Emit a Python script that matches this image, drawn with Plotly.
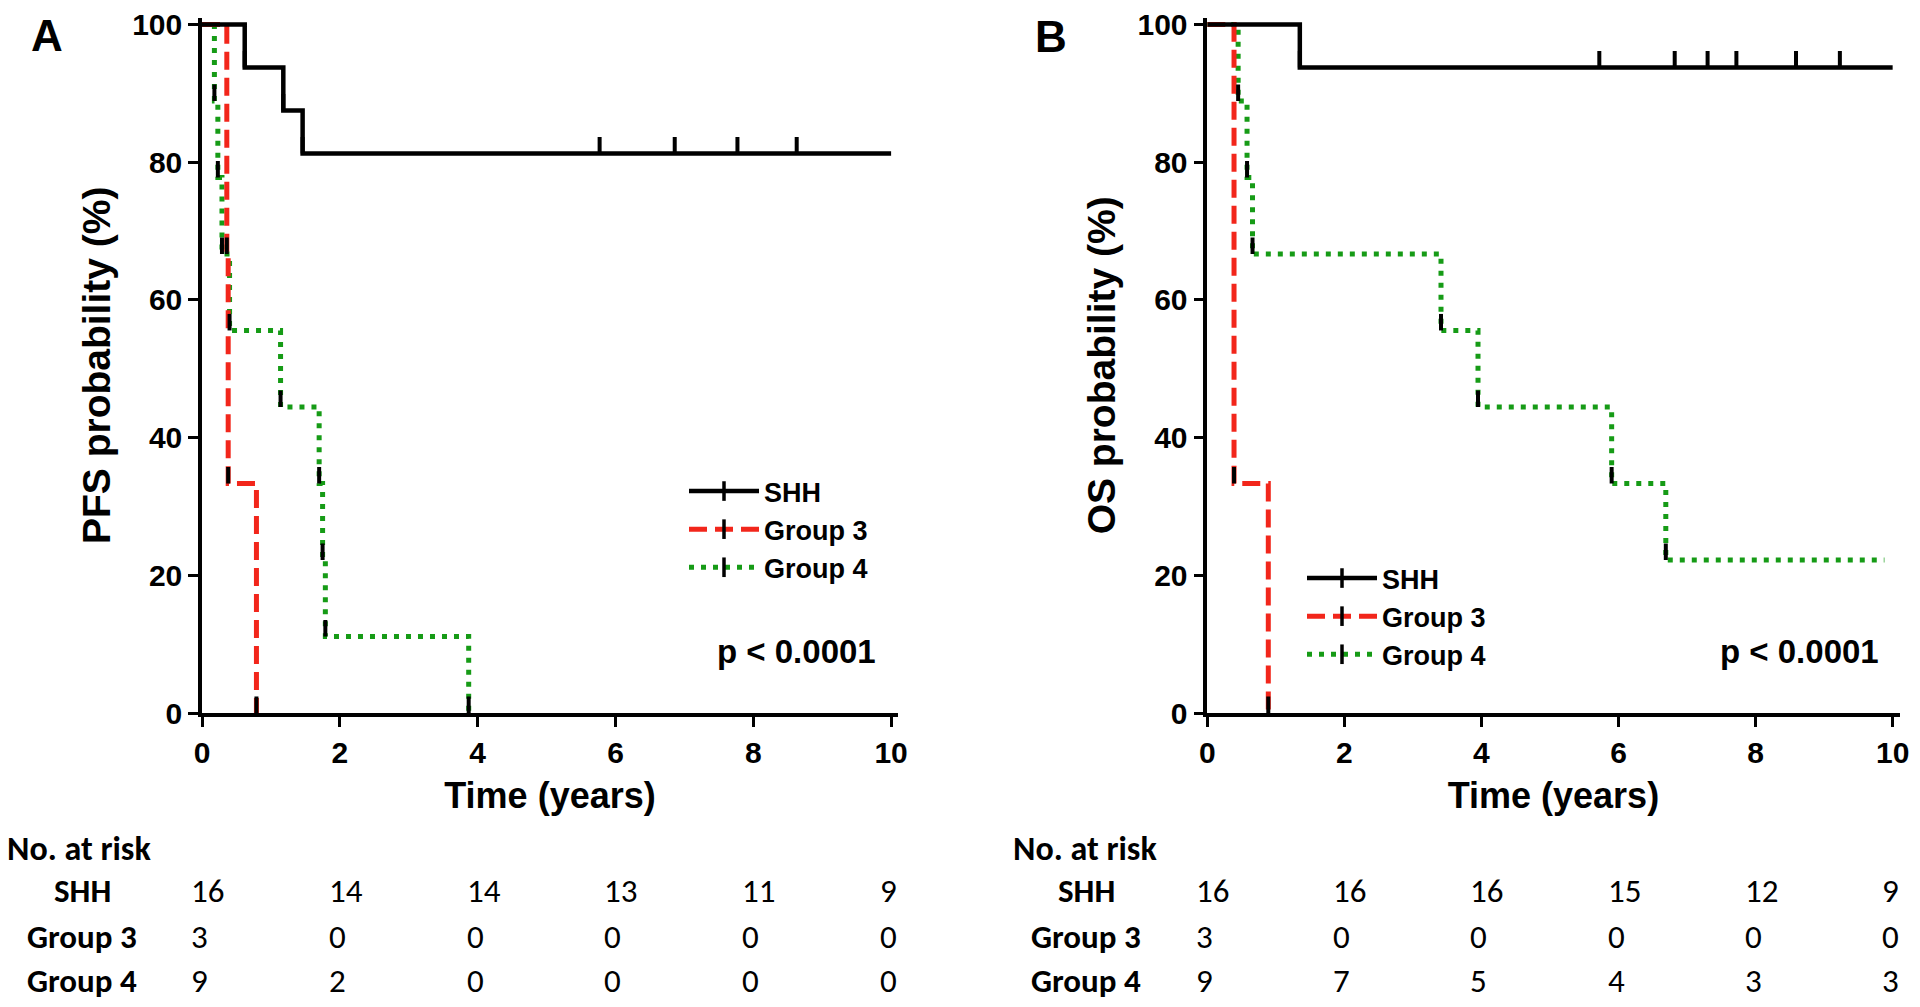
import numpy as np
import plotly.graph_objects as go

# ---------------- data ----------------
# Panel A: progression-free survival (step points: time in years, survival %)
pfs_shh_t = [0, 0.62, 1.18, 1.46, 10.0]
pfs_shh_s = [100, 93.75, 87.5, 81.25, 81.25]
pfs_shh_censor = [5.77, 6.86, 7.77, 8.63]

pfs_g3_t = [0, 0.36, 0.38, 0.79]
pfs_g3_s = [100, 66.67, 33.33, 0]

pfs_g4_t = [0, 0.18, 0.23, 0.29, 0.40, 1.14, 1.70, 1.75, 1.79, 3.87]
pfs_g4_s = [100, 88.89, 77.78, 66.67, 55.56, 44.44, 33.33, 22.22, 11.11, 0]

# Panel B: overall survival
os_shh_t = [0, 1.35, 10.0]
os_shh_s = [100, 93.75, 93.75]
os_shh_censor = [5.72, 6.82, 7.30, 7.72, 8.59, 9.23]

os_g3_t = [0, 0.39, 0.39, 0.89]
os_g3_s = [100, 66.67, 33.33, 0]

os_g4_t = [0, 0.45, 0.58, 0.66, 3.41, 3.95, 5.90, 6.69, 9.88]
os_g4_s = [100, 88.89, 77.78, 66.67, 55.56, 44.44, 33.33, 22.22, 22.22]

# Numbers at risk
risk_times = [0, 2, 4, 6, 8, 10]
groups = ["SHH", "Group 3", "Group 4"]
pfs_risk_shh = [16, 14, 14, 13, 11, 9]
pfs_risk_g3 = [3, 0, 0, 0, 0, 0]
pfs_risk_g4 = [9, 2, 0, 0, 0, 0]
os_risk_shh = [16, 16, 16, 15, 12, 9]
os_risk_g3 = [3, 0, 0, 0, 0, 0]
os_risk_g4 = [9, 7, 5, 4, 3, 3]

x_ticks = [0, 2, 4, 6, 8, 10]
y_ticks = [0, 20, 40, 60, 80, 100]

# ---------------- styles ----------------
W, H = 1920, 1007
BLACK = "#000000"
RED = "#f2261b"
GREEN = "#169b16"
AX_FONT = "Liberation Sans, Arial, sans-serif"
TAB_FONT = "Carlito, Calibri, Lato, sans-serif"
TICK_H = 2.4  # tick height in % units

series_style = {
    "SHH": dict(color=BLACK, width=4.5, dash="solid"),
    "Group 3": dict(color=RED, width=5, dash="18px,8px"),
    "Group 4": dict(color=GREEN, width=5, dash="5px,7px"),
}


def px_x(p):
    return p / W


def px_y(p):
    return (H - p) / H


fig = go.Figure()


def event_ticks(t, s):
    xs, ys = [], []
    for i in range(1, len(t)):
        if s[i] < s[i - 1] and (i == len(t) - 1 or t[i + 1] != t[i]):
            xs += [t[i], t[i], None]
            ys += [s[i], s[i] + TICK_H, None]
    return xs, ys


def censor_ticks(t, s, ct):
    t = np.asarray(t)
    s = np.asarray(s)
    xs, ys = [], []
    for c in ct:
        lvl = s[np.searchsorted(t, c, side="right") - 1]
        xs += [c, c, None]
        ys += [float(lvl), float(lvl) + TICK_H, None]
    return xs, ys


def add_panel(xa, ya, legend, data):
    # data: list of (name, t, s, censor)
    for name, t, s, cens in reversed(data):
        st = series_style[name]
        fig.add_trace(go.Scatter(
            x=t, y=s, mode="lines", line_shape="hv",
            line=dict(color=st["color"], width=st["width"], dash=st["dash"]),
            xaxis=xa, yaxis=ya, showlegend=False, name=name, hoverinfo="skip"))
    for name, t, s, cens in data:
        ex, ey = event_ticks(t, s)
        if cens:
            cx, cy = censor_ticks(t, s, cens)
            ex += cx
            ey += cy
        if ex:
            fig.add_trace(go.Scatter(
                x=ex, y=ey, mode="lines", line=dict(color=BLACK, width=4),
                xaxis=xa, yaxis=ya, showlegend=False, hoverinfo="skip"))
    # legend entries
    for name, t, s, cens in data:
        st = series_style[name]
        fig.add_trace(go.Scatter(
            x=[None], y=[None], mode="lines+markers", name=name,
            line=dict(color=st["color"], width=st["width"], dash=st["dash"]),
            marker=dict(symbol="line-ns", size=14, line=dict(color=BLACK, width=3.5), color=BLACK),
            xaxis=xa, yaxis=ya, legend=legend, showlegend=True))


add_panel("x", "y", "legend", [
    ("SHH", pfs_shh_t, pfs_shh_s, pfs_shh_censor),
    ("Group 3", pfs_g3_t, pfs_g3_s, None),
    ("Group 4", pfs_g4_t, pfs_g4_s, None),
])
add_panel("x2", "y2", "legend2", [
    ("SHH", os_shh_t, os_shh_s, os_shh_censor),
    ("Group 3", os_g3_t, os_g3_s, None),
    ("Group 4", os_g4_t, os_g4_s, None),
])

# ---------------- axes ----------------
y_dom = [px_y(713), px_y(17.6)]
axis_common = dict(
    showline=True, linecolor=BLACK, linewidth=3.5, mirror=False,
    ticks="outside", ticklen=10, tickwidth=3, tickcolor=BLACK,
    showgrid=False, zeroline=False, automargin=False,
    tickfont=dict(family=AX_FONT, size=30, color=BLACK, weight="bold"),
)
xcommon = dict(axis_common, range=[0, 10.1], tickvals=x_ticks,
               ticktext=[str(v) for v in x_ticks])
ycommon = dict(axis_common, range=[0, 101], tickvals=y_ticks,
               ticktext=[str(v) for v in y_ticks])

fig.update_layout(
    xaxis=dict(xcommon, domain=[px_x(202), px_x(898)], anchor="y",
               title=dict(text="Time (years)", standoff=16,
                          font=dict(family=AX_FONT, size=36, color=BLACK, weight="bold"))),
    yaxis=dict(ycommon, domain=y_dom, anchor="x",
               title=dict(text="PFS probability (%)", standoff=11,
                          font=dict(family=AX_FONT, size=39, color=BLACK, weight="bold"))),
    xaxis2=dict(xcommon, domain=[px_x(1207.3), px_x(1899.5)], anchor="y2",
                title=dict(text="Time (years)", standoff=16,
                           font=dict(family=AX_FONT, size=36, color=BLACK, weight="bold"))),
    yaxis2=dict(ycommon, domain=y_dom, anchor="x2",
                title=dict(text="OS probability (%)", standoff=11,
                           font=dict(family=AX_FONT, size=39, color=BLACK, weight="bold"))),
)

legend_common = dict(
    font=dict(family=AX_FONT, size=27, color=BLACK, weight="bold"),
    bgcolor="rgba(0,0,0,0)", borderwidth=0, itemwidth=70,
    xanchor="left", yanchor="top", tracegroupgap=0, itemclick=False,
)
fig.update_layout(
    legend=dict(legend_common, x=px_x(684), y=px_y(467)),
    legend2=dict(legend_common, x=px_x(1302), y=px_y(554)),
)

# ---------------- annotations ----------------
ann = []
# panel letters
ann.append(dict(text="A", x=px_x(47), y=px_y(36), xref="paper", yref="paper",
                showarrow=False, xanchor="center", yanchor="middle",
                font=dict(family=AX_FONT, size=44, color=BLACK, weight="bold")))
ann.append(dict(text="B", x=px_x(1051), y=px_y(37), xref="paper", yref="paper",
                showarrow=False, xanchor="center", yanchor="middle",
                font=dict(family=AX_FONT, size=44, color=BLACK, weight="bold")))
# p-values
for xp in (878, 1881):
    ann.append(dict(text="p < 0.0001", x=px_x(xp), y=px_y(651), xref="paper", yref="paper",
                    showarrow=False, xanchor="right", yanchor="middle",
                    font=dict(family=AX_FONT, size=33, color=BLACK, weight="bold")))

# risk tables
row_y = [891, 937, 981]
tables = [
    ("x", 5, 82, [pfs_risk_shh, pfs_risk_g3, pfs_risk_g4]),
    ("x2", 1011, 1086, [os_risk_shh, os_risk_g3, os_risk_g4]),
]
for xa, left, lab_c, rows in tables:
    ann.append(dict(text="No. at risk", x=px_x(left), y=px_y(848), xref="paper", yref="paper",
                    showarrow=False, xanchor="left", yanchor="middle",
                    font=dict(family=TAB_FONT, size=34, color=BLACK, weight="bold")))
    for g, vals, ry in zip(groups, rows, row_y):
        ann.append(dict(text=g, x=px_x(lab_c), y=px_y(ry), xref="paper", yref="paper",
                        showarrow=False, xanchor="center", yanchor="middle",
                        font=dict(family=TAB_FONT, size=33, color=BLACK, weight="bold")))
        for tt, v in zip(risk_times, vals):
            ann.append(dict(text=str(v), x=tt, y=px_y(ry), xref=xa, yref="paper",
                            xshift=-13, showarrow=False, xanchor="left", yanchor="middle",
                            font=dict(family=TAB_FONT, size=33, color=BLACK)))

fig.update_layout(
    annotations=ann,
    width=W, height=H, autosize=False,
    margin=dict(l=0, r=0, t=0, b=0),
    paper_bgcolor="white", plot_bgcolor="white",
)

fig.write_html(
    "out.html",
    config={"displayModeBar": False},
    post_script="document.body.style.margin='0';document.body.style.overflow='hidden';",
)
